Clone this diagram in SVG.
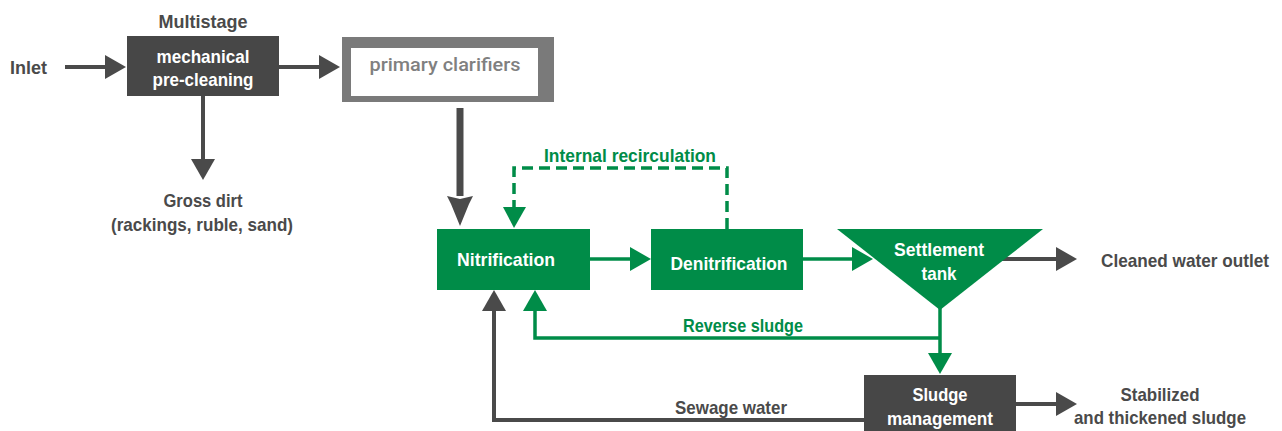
<svg xmlns="http://www.w3.org/2000/svg" width="1282" height="431" viewBox="0 0 1282 431">
<style>
.t{font-family:"Liberation Sans",Arial,sans-serif;font-weight:bold;font-size:18.5px;fill:#4a4a4a}
.w{fill:#ffffff}
.g{fill:#008c48}
.dk{stroke:#4a4a4a;stroke-width:4;fill:none}
.gr{stroke:#008c48;stroke-width:3.5;fill:none}
.dash{stroke-dasharray:11 6}
</style>
<defs>
<marker id="ad" markerUnits="userSpaceOnUse" markerWidth="22" markerHeight="26" refX="0" refY="12" orient="auto" overflow="visible"><path d="M0,0 L21,12 L0,24 z" fill="#4a4a4a"/></marker>
<marker id="ag" markerUnits="userSpaceOnUse" markerWidth="22" markerHeight="26" refX="0" refY="12" orient="auto" overflow="visible"><path d="M0,0 L21,12 L0,24 z" fill="#008c48"/></marker>
<marker id="ab" markerUnits="userSpaceOnUse" markerWidth="32" markerHeight="28" refX="0" refY="13" orient="auto" overflow="visible"><path d="M0,0 L8,4 L30,13 L8,22 L0,26 L3,13 z" fill="#4a4a4a"/></marker>
</defs>
<g id="connectors">
<line class="dk" x1="65" y1="67" x2="105" y2="67" marker-end="url(#ad)"/>
<line class="dk" x1="279" y1="67" x2="319" y2="67" marker-end="url(#ad)"/>
<line class="dk" x1="203" y1="96" x2="203" y2="159" marker-end="url(#ad)"/>
<line x1="460" y1="108" x2="460" y2="196" stroke="#4a4a4a" stroke-width="7" marker-end="url(#ab)"/>
<polyline class="gr dash" points="727,229 727,168 514,168 514,208"/>
<path d="M503,207 L526,207 L514,228 z" fill="#008c48"/>
<line class="gr" x1="590" y1="259" x2="630" y2="259" marker-end="url(#ag)"/>
<line class="gr" x1="803" y1="259" x2="852" y2="259" marker-end="url(#ag)"/>
<line class="dk" x1="1000" y1="259" x2="1056" y2="259" marker-end="url(#ad)"/>
<line class="gr" x1="940" y1="305" x2="940" y2="353" marker-end="url(#ag)"/>
<polyline class="gr" points="940,338 535,338 535,311" marker-end="url(#ag)"/>
<polyline class="dk" points="866,420 494,420 494,311" marker-end="url(#ad)"/>
<line class="dk" x1="1016" y1="404" x2="1056" y2="404" marker-end="url(#ad)"/>
<text class="t g" x="630" y="162" text-anchor="middle" textLength="172" lengthAdjust="spacingAndGlyphs">Internal recirculation</text>
<text class="t g" x="743" y="332" text-anchor="middle" textLength="120" lengthAdjust="spacingAndGlyphs">Reverse sludge</text>
<text class="t" x="731" y="414" text-anchor="middle" textLength="112" lengthAdjust="spacingAndGlyphs">Sewage water</text>
</g>
<g id="inlet">
<text class="t" x="10" y="74" textLength="37" lengthAdjust="spacingAndGlyphs">Inlet</text>
</g>
<g id="precleaning">
<text class="t" x="203" y="28" text-anchor="middle" textLength="89" lengthAdjust="spacingAndGlyphs">Multistage</text>
<rect x="127" y="36" width="152" height="60" fill="#474747"/>
<text class="t w" x="203" y="63" text-anchor="middle" textLength="93" lengthAdjust="spacingAndGlyphs">mechanical</text>
<text class="t w" x="203" y="86" text-anchor="middle" textLength="101" lengthAdjust="spacingAndGlyphs">pre-cleaning</text>
</g>
<g id="clarifiers">
<rect x="342" y="37" width="212" height="65" fill="#7a7a7a"/>
<rect x="351" y="48" width="187" height="48" fill="#ffffff"/>
<text x="445" y="71" text-anchor="middle" font-family="Roboto,'Liberation Sans',sans-serif" font-weight="500" font-size="18" fill="#808080" textLength="151" lengthAdjust="spacingAndGlyphs">primary clarifiers</text>
</g>
<g id="grossdirt">
<text class="t" x="203" y="207" text-anchor="middle" textLength="79" lengthAdjust="spacingAndGlyphs">Gross dirt</text>
<text class="t" x="202" y="231" text-anchor="middle" textLength="182" lengthAdjust="spacingAndGlyphs">(rackings, ruble, sand)</text>
</g>
<g id="nitrification">
<rect x="437" y="229" width="153" height="61" fill="#008c48"/>
<text class="t w" x="506" y="266" text-anchor="middle" textLength="98" lengthAdjust="spacingAndGlyphs">Nitrification</text>
</g>
<g id="denitrification">
<rect x="651" y="229" width="152" height="61" fill="#008c48"/>
<text class="t w" x="729" y="270" text-anchor="middle" textLength="117" lengthAdjust="spacingAndGlyphs">Denitrification</text>
</g>
<g id="settlement">
<path d="M837,229 L1043,229 L940,310 z" fill="#008c48"/>
<text class="t w" x="939" y="256" text-anchor="middle" textLength="90" lengthAdjust="spacingAndGlyphs">Settlement</text>
<text class="t w" x="939" y="280" text-anchor="middle" textLength="35" lengthAdjust="spacingAndGlyphs">tank</text>
</g>
<g id="outlet">
<text class="t" x="1101" y="267" textLength="168" lengthAdjust="spacingAndGlyphs">Cleaned water outlet</text>
</g>
<g id="sludge">
<rect x="864" y="375" width="152" height="60" fill="#474747"/>
<text class="t w" x="940" y="401" text-anchor="middle" textLength="55" lengthAdjust="spacingAndGlyphs">Sludge</text>
<text class="t w" x="940" y="425" text-anchor="middle" textLength="106" lengthAdjust="spacingAndGlyphs">management</text>
</g>
<g id="stabilized">
<text class="t" x="1160" y="401" text-anchor="middle" textLength="79" lengthAdjust="spacingAndGlyphs">Stabilized</text>
<text class="t" x="1160" y="424" text-anchor="middle" textLength="172" lengthAdjust="spacingAndGlyphs">and thickened sludge</text>
</g>
</svg>
